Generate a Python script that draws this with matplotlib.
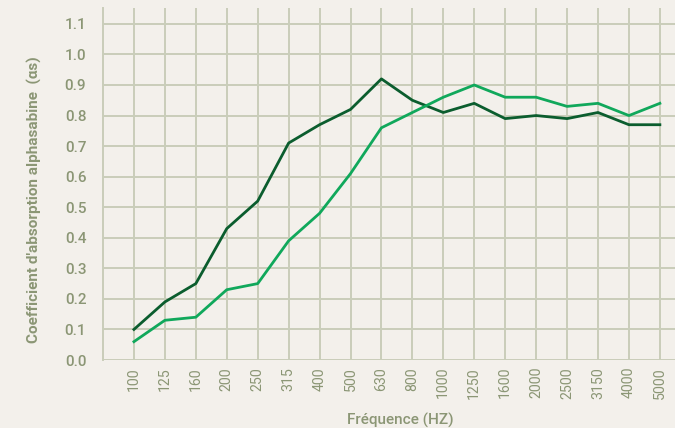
import matplotlib
matplotlib.use("Agg")
import matplotlib.pyplot as plt
import numpy as np

# third-octave bands and alpha_s values for the two panels
frequences = ["100", "125", "160", "200", "250", "315", "400", "500", "630",
              "800", "1000", "1250", "1600", "2000", "2500", "3150", "4000", "5000"]
alpha_fonce = [0.10, 0.19, 0.25, 0.43, 0.52, 0.71, 0.77, 0.82, 0.92,
               0.85, 0.81, 0.84, 0.79, 0.80, 0.79, 0.81, 0.77, 0.77]
alpha_clair = [0.06, 0.13, 0.14, 0.23, 0.25, 0.39, 0.48, 0.61, 0.76,
               0.81, 0.86, 0.90, 0.86, 0.86, 0.83, 0.84, 0.80, 0.84]
yticks = [0.0, 0.1, 0.2, 0.3, 0.4, 0.5, 0.6, 0.7, 0.8, 0.9, 1.0, 1.1]

BG = "#f3f0eb"
GRID = "#c9cdb9"
TEXT = "#8b9675"
DARK = "#0b5d2e"
LIGHT = "#10a85b"

plt.rcParams["font.family"] = ["Roboto", "DejaVu Sans"]

fig = plt.figure(figsize=(6.75, 4.28), dpi=100, facecolor=BG)

# thin band along the top edge
band = fig.add_axes([0, 1 - 8 / 428, 1, 8 / 428])
band.set_facecolor("#dde2d6")
band.axis("off")
band.patch.set_visible(True)

ax = fig.add_axes([103 / 675, 68 / 428, 594 / 675, 352 / 428])
ax.set_facecolor(BG)

x = np.arange(len(frequences))
ax.plot(x, alpha_fonce, color=DARK, lw=2.0, zorder=3)
ax.plot(x, alpha_clair, color=LIGHT, lw=2.0, zorder=3)

ax.set_xlim(-1, 18.2)
ax.set_ylim(0, 1.152)
ax.set_xticks(x)
ax.set_xticklabels(frequences, rotation=90)
ax.set_yticks(yticks)
ax.set_yticklabels([f"{v:.1f}" for v in yticks])
ax.tick_params(length=0, colors=TEXT)
ax.tick_params(axis="y", pad=12, labelsize=11)
ax.tick_params(axis="x", pad=5, labelsize=10.2)
for lab in ax.get_yticklabels():
    lab.set_fontweight("medium")

ax.grid(True, color=GRID, lw=1.4, zorder=1)
for s in ["top", "right", "bottom"]:
    ax.spines[s].set_visible(False)
ax.spines["left"].set_color(GRID)
ax.spines["left"].set_linewidth(1.4)

ax.set_xlabel("Fréquence (HZ)", color=TEXT, fontsize=11, fontweight="medium")
ax.xaxis.set_label_coords((400 - 103) / 594, -53 / 352)
ax.set_ylabel("Coefficient d'absorption alphasabine  (\u03b1s)", color=TEXT,
              fontsize=11, fontweight="bold")
ax.yaxis.set_label_coords(-61 / 594, 0.455)

fig.savefig("out.png", dpi=100, facecolor=BG)
